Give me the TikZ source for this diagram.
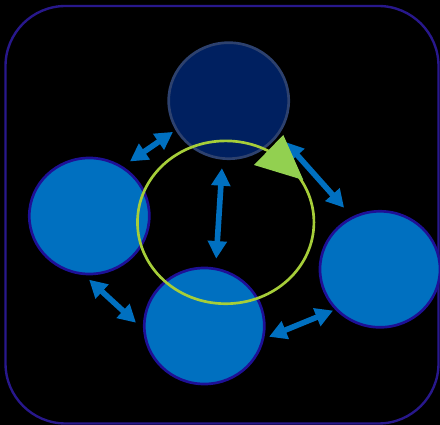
\documentclass[tikz,border=0pt]{standalone}
\usepackage{tikz}
\usetikzlibrary{shapes.geometric, arrows.meta, positioning}
\definecolor{cyclenavy}{RGB}{0,32,96}
\definecolor{navyedge}{RGB}{45,65,110}
\definecolor{cycleblue}{RGB}{0,112,192}
\definecolor{blueedge}{RGB}{30,16,150}
\definecolor{ringgreen}{RGB}{166,206,57}
\definecolor{trigreen}{RGB}{146,208,80}
\definecolor{frameedge}{RGB}{40,24,140}

\begin{document}
\begin{tikzpicture}[x=0.025cm, y=-0.025cm,
  phase/.style={ellipse, draw=blueedge, fill=cycleblue, line width=1.9pt,
                minimum width=3.0cm, minimum height=2.9cm, inner sep=0pt},
  core/.style={phase, draw=navyedge, fill=cyclenavy},
  ring/.style={ellipse, draw=ringgreen, line width=1.9pt,
               minimum width=4.41cm, minimum height=4.07cm, inner sep=0pt},
  link/.style={{Triangle[length=0.44cm,width=0.46cm]}-{Triangle[length=0.44cm,width=0.46cm]},
               line width=4pt, cycleblue},
]
\useasboundingbox (0,0) rectangle (440,425);
\fill[black] (0,0) rectangle (440,425);
\draw[frameedge, line width=1.7pt, rounded corners=1.5cm] (5.5,6) rectangle (438.5,423.5);

% the four stages
\node[core]  (upper) at (228.7,100.7) {};
\node[phase] (lwing) at (89.3,216)    {};
\node[phase] (lower) at (204.3,326)   {};
\node[phase] (rwing) at (380,269.3)   {};

\node[ring] (loop) at (225.7,222.3) {};

\draw[link, shorten <=0.215cm, shorten >=0.075cm] (lwing.56)  -- (upper.209);
\draw[link, shorten <=0.21cm,  shorten >=0.225cm] (upper.264) -- (lower.79);
\draw[link, shorten <=0.25cm,  shorten >=0.295cm] (upper.326) -- (rwing.118);
\draw[link, shorten <=0.17cm,  shorten >=0.24cm]  (lwing.265) -- (lower.183);
\draw[link, shorten <=0.13cm,  shorten >=0.055cm] (lower.348) -- (rwing.222);

% direction marker on the ring
\fill[trigreen] (283.3,135) -- (254,165) -- (303.3,180) -- cycle;

\end{tikzpicture}
\end{document}
